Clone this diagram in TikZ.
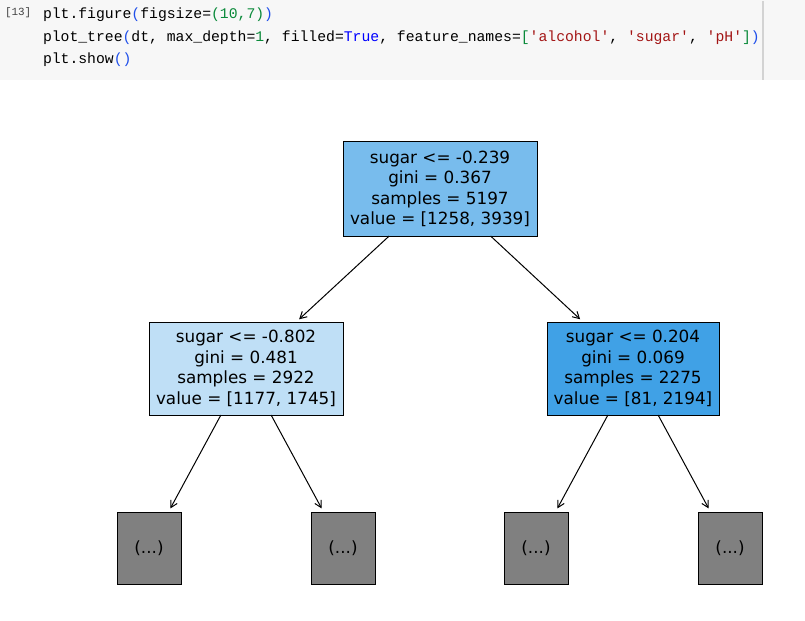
\documentclass[tikz,border=0pt]{standalone}
\usepackage{fontspec}
\setmonofont{Liberation Mono}
\newfontfamily\dejavu{DejaVu Sans}
\usetikzlibrary{arrows.meta}
\definecolor{cellbg}{HTML}{F7F7F7}
\definecolor{cellline}{HTML}{D3D3D3}
\definecolor{cnum}{HTML}{424242}
\definecolor{cblue}{HTML}{1F4FEA}
\definecolor{cgreen}{HTML}{0A8A3A}
\definecolor{cred}{HTML}{A31515}
\definecolor{ckw}{HTML}{0000FF}
\definecolor{rootfill}{HTML}{78BCED}
\definecolor{leftfill}{HTML}{BFDFF6}
\definecolor{rightfill}{HTML}{40A1E6}
\definecolor{leaffill}{HTML}{808080}
\newcommand{\cB}[1]{\textcolor{cblue}{#1}}
\newcommand{\cG}[1]{\textcolor{cgreen}{#1}}
\newcommand{\cR}[1]{\textcolor{cred}{#1}}
\newcommand{\cK}[1]{\textcolor{ckw}{#1}}
\begin{document}
\begin{tikzpicture}[x=0.75pt,y=-0.75pt,
  codeline/.style={anchor=base west,inner sep=0pt,outer sep=0pt,
    font=\ttfamily\fontsize{11.06}{13}\selectfont},
  treenode/.style={draw=black,line width=0.75pt,rectangle,inner sep=0pt,outer sep=0pt,
    align=center,font=\dejavu\fontsize{12.6}{15.4}\selectfont},
  bignode/.style={treenode,minimum height=69.75pt},
  leafnode/.style={treenode,fill=leaffill,minimum width=48pt,minimum height=54pt},
  edge/.style={line width=0.75pt,-{Straight Barb[length=5pt,width=5.5pt,line width=0.75pt]},shorten >=3pt}
]
\useasboundingbox (0,0) rectangle (805,620);
\fill[cellbg] (0,0) rectangle (805,80);
\draw[cellline,line width=0.9pt] (763,1) -- (763,80);
\node[codeline,font=\ttfamily\fontsize{8.2}{10}\selectfont,text=cnum] (cellnum) at (5,15.5) {[13]};
\node[codeline] (code1) at (43,19) {plt.figure\cB{(}figsize=\cG{(10,7)}\cB{)}};
\node[codeline] (code2) at (43,41.5) {plot\_tree\cB{(}dt, max\_depth=\cG{1}, filled=\cK{True}, feature\_names=\cG{[}\cR{'alcohol'}, \cR{'sugar'}, \cR{'pH'}\cG{]}\cB{)}};
\node[codeline] (code3) at (43,64) {plt.show\cB{()}};

\node[bignode,fill=rootfill,minimum width=145.5pt,minimum height=70.5pt] (root) at (440,189)
  {sugar <= -0.239\\gini = 0.367\\samples = 5197\\value = [1258, 3939]};
\node[bignode,fill=leftfill,minimum width=145.5pt] (left) at (246,368.5)
  {sugar <= -0.802\\gini = 0.481\\samples = 2922\\value = [1177, 1745]};
\node[bignode,fill=rightfill,minimum width=129pt] (right) at (633,368.5)
  {sugar <= 0.204\\gini = 0.069\\samples = 2275\\value = [81, 2194]};
\node[leafnode] (l1) at (149,548) {(...)};
\node[leafnode] (l2) at (343,548) {(...)};
\node[leafnode] (l3) at (536,548) {(...)};
\node[leafnode] (l4) at (730,548) {(...)};

\draw[edge] (root) -- (left);
\draw[edge] (root) -- (right);
\draw[edge] (left) -- (l1);
\draw[edge] (left) -- (l2);
\draw[edge] (right) -- (l3);
\draw[edge] (right) -- (l4);
\end{tikzpicture}
\end{document}
